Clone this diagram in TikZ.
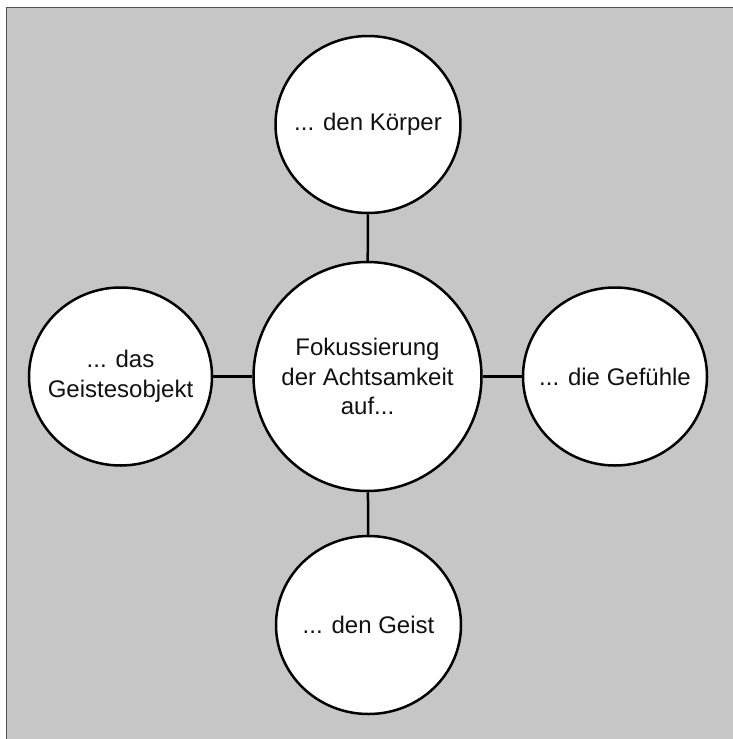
\documentclass[tikz,border=0pt]{standalone}
\usepackage{fontspec}
\setmainfont{Liberation Sans}
\usetikzlibrary{shapes.geometric}
\definecolor{bgfill}{HTML}{C6C6C6}
\definecolor{bordercol}{HTML}{505050}
\definecolor{txt}{HTML}{111111}
\begin{document}
\begin{tikzpicture}[x=1pt,y=-1pt,
 bubble/.style={ellipse, draw=black, line width=2.5pt, fill=white, inner sep=0pt},
 label text/.style={align=center, inner sep=0pt, font=\fontsize{24}{29.5}\selectfont, text=txt},
 link/.style={draw=black, line width=2.5pt}]
\useasboundingbox (0,0) rectangle (733,739);
\fill[bgfill] (6,7) rectangle (733,739);
\draw[bordercol, line width=1.5pt] (6.5,739) -- (6.5,7.5) -- (733,7.5);
\node[bubble, minimum width=228pt, minimum height=229pt] (c) at (367.5,376.5) {};
\node[bubble, minimum width=185pt, minimum height=177pt] (t) at (368,124.5) {};
\node[bubble, minimum width=184pt, minimum height=178pt] (r) at (615,376.5) {};
\node[bubble, minimum width=185pt, minimum height=178pt] (b) at (368.5,625) {};
\node[bubble, minimum width=183pt, minimum height=178pt] (l) at (120.5,376.5) {};
\node[label text] (ct) at (c) {Fokussierung\\der Achtsamkeit\\auf...};
\node[label text] (tt) at (t) {... den Körper};
\node[label text] (rt) at (r) {... die Gefühle};
\node[label text] (bt) at (b) {... den Geist};
\node[label text] (lt) at (l) {... das\\Geistesobjekt};
\draw[link] (c) -- (t);
\draw[link] (c) -- (b);
\draw[link] (c) -- (l);
\draw[link] (c) -- (r);
\end{tikzpicture}
\end{document}
